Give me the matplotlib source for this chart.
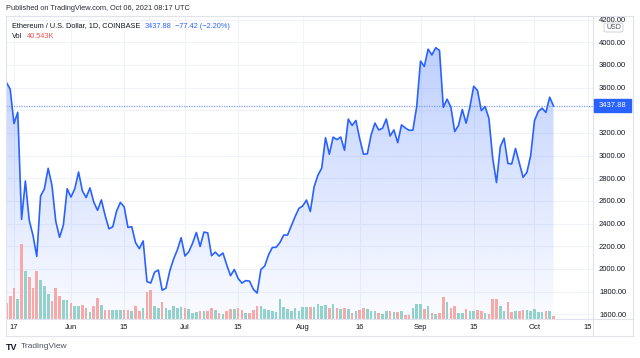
import numpy as np
import pandas as pd
import matplotlib
matplotlib.use("Agg")
import matplotlib.pyplot as plt
import matplotlib.dates as mdates
from matplotlib.patches import Rectangle, FancyBboxPatch
from matplotlib.lines import Line2D

W, H = 640, 358
plt.rcParams['font.family'] = ['Liberation Sans', 'DejaVu Sans']


def fx(x):
    return x / W


def fy(y):
    return 1 - y / H


# daily closes, May 15 .. Oct 6 2021
dates = pd.date_range("2021-05-15", "2021-10-06", freq="D")
close = [
    3646, 3587, 3283, 3382, 2437, 2776, 2432, 2296, 2110, 2643, 2706, 2888, 2736, 2421, 2279, 2387, 2707,
    2634, 2707, 2855, 2689, 2630, 2715, 2590, 2517, 2609, 2471, 2354, 2372, 2510, 2587, 2548,
    2366, 2372, 2231, 2179, 2247, 1888, 1875, 1971, 1990, 1812, 1830, 1981, 2086, 2168, 2275,
    2114, 2151, 2226, 2322, 2198, 2325, 2318, 2117, 2148, 2113, 2140, 2035, 1940, 1995, 1915,
    1875, 1897, 1892, 1820, 1787, 1995, 2026, 2123, 2189, 2191, 2233, 2299, 2299, 2381, 2462, 2534,
    2556, 2608, 2507, 2725, 2827, 2890, 3158, 3012, 3163, 3141, 3164, 3047, 3322, 3266, 3310,
    3148, 3012, 3016, 3182, 3287, 3226, 3241, 3323, 3173, 3227, 3114, 3271, 3244, 3223, 3225, 3433,
    3834, 3787, 3939, 3888, 3952, 3928, 3426, 3498, 3427, 3212, 3266, 3407, 3286, 3429, 3612,
    3575, 3397, 3432, 3330, 2977, 2762, 3078, 3154, 2931, 2926, 3063, 2934, 2808, 2852, 3001,
    3308, 3390, 3418, 3381, 3515, 3437.88,
]
open_may15 = 4075
# volume in thousands
volume_k = [
    216, 311, 419, 270, 1013, 648, 567, 419, 648, 527, 446, 338, 243, 419, 311, 257, 257,
    216, 176, 176, 189, 149, 95, 176, 284, 189, 122, 122, 122, 122, 122, 122,
    122, 108, 176, 108, 149, 365, 392, 176, 149, 230, 149, 122, 176, 149, 162,
    149, 135, 81, 95, 108, 108, 108, 149, 122, 81, 68, 108, 135, 135, 149,
    122, 81, 81, 122, 176, 176, 135, 122, 108, 95, 270, 162, 135, 108, 149, 108,
    162, 162, 162, 162, 203, 176, 189, 149, 203, 149, 135, 149, 135, 81, 108,
    122, 149, 135, 108, 108, 81, 68, 108, 108, 95, 95, 108, 54, 54, 149, 203,
    203, 135, 176, 81, 68, 81, 297, 230, 149, 176, 81, 81, 135, 108, 108,
    122, 108, 81, 68, 270, 270, 176, 108, 230, 95, 108, 108, 122, 122, 108,
    135, 95, 95, 108, 108, 40.543,
]

tick_dates = pd.to_datetime(["2021-05-17", "2021-06-01", "2021-06-15", "2021-07-01", "2021-07-15",
                             "2021-08-01", "2021-08-16", "2021-09-01", "2021-09-15", "2021-10-01",
                             "2021-10-15"])
tick_labels = ["17", "Jun", "15", "Jul", "15", "Aug", "16", "Sep", "15", "Oct", "15"]
price_ticks = np.arange(1600, 4201, 200)
last_price = 3437.88
change_txt = "\u221277.42 (\u22122.20%)"
vol_txt = "40.543K"

BLUE = '#2962ff'
GRID = '#f0f3fa'
BORDER = '#e0e3eb'
TXT = '#131722'
FS = 5.5
HFS = 5.3

xnum = mdates.date2num(dates)
x0 = mdates.date2num(pd.Timestamp("2021-05-17"))
xlim = (x0 - 2.1, x0 + 152.4)
ylim = (1558, 4223)

fig = plt.figure(figsize=(6.4, 3.58), dpi=100)
rect = [fx(6), fy(319), fx(593) - fx(6), fy(17) - fy(319)]
ax = fig.add_axes(rect)
vax = fig.add_axes(rect, sharex=ax)
vax.patch.set_visible(False)
vax.axis('off')

# area gradient under the line
poly = ax.fill_between(xnum, close, ylim[0], color='none', lw=0)
grad = np.zeros((256, 1, 4))
grad[..., 0], grad[..., 1], grad[..., 2] = 41 / 255, 98 / 255, 1.0
grad[..., 3] = np.linspace(0.30, 0.02, 256)[:, None]
img = ax.imshow(grad, extent=[xnum[0], xnum[-1], ylim[0], max(close)], aspect='auto',
                origin='upper', zorder=1)
img.set_clip_path(poly.get_paths()[0], transform=ax.transData)

ax.plot(xnum, close, color=BLUE, lw=1.2, zorder=3, solid_joinstyle='round')
ax.axhline(last_price, color='#7fa0ff', lw=0.9, ls=(0, (1, 1)), zorder=2)

ax.set_xlim(*xlim)
ax.set_ylim(*ylim)
ax.set_xticks(mdates.date2num(tick_dates))
ax.set_xticklabels(tick_labels)
ax.set_yticks(price_ticks)
ax.set_yticklabels([f"{p:.2f}" for p in price_ticks])
ax.yaxis.tick_right()
ax.tick_params(axis='both', length=0, colors=TXT, labelsize=FS)
ax.tick_params(axis='x', pad=3.5)
ax.tick_params(axis='y', pad=4.3)
for lab in ax.get_yticklabels():
    lab.set_horizontalalignment('left')
ax.grid(True, color=GRID, lw=0.8, zorder=0)
ax.set_axisbelow(True)
for s in ax.spines.values():
    s.set_visible(False)

# volume bars
prev = np.concatenate([[open_may15], close[:-1]])
vcols = np.where(np.array(close) >= prev, '#92d2cc', '#f7a9a7')
vax.bar(xnum, volume_k, width=0.7, color=vcols, lw=0)
vax.set_ylim(0, 302 * 13.5)
vax.set_xlim(*xlim)

# frame lines
for (xa, ya, xb, yb) in [(6, 16, 633, 16), (6, 336, 633, 336), (6, 16, 6, 336), (633, 16, 633, 336),
                         (593, 16, 593, 336), (6, 319, 633, 319)]:
    fig.add_artist(Line2D([fx(xa), fx(xb)], [fy(ya), fy(yb)], color=BORDER, lw=0.8))

# last price label (covers most of the 3400.00 tick label, as in the original)
fig.add_artist(Rectangle((fx(594), fy(112)), fx(37), 13 / H, color=BLUE, zorder=5))
fig.text(fx(612.5), fy(105.5), f"{last_price:.2f}", color='white', fontsize=FS,
         ha='center', va='center', zorder=6)
# USD tag
fig.add_artist(FancyBboxPatch((fx(604), fy(32)), fx(19), 9 / H, boxstyle="round,pad=0,rounding_size=0.004",
                              fc='white', ec='#c8cbd3', lw=0.6, zorder=5))
fig.text(fx(613.5), fy(27.5), "USD", color='#50535e', fontsize=5, ha='center', va='center', zorder=6)

# header texts
fig.text(fx(6), fy(8), "Published on TradingView.com, Oct 06, 2021 08:17 UTC", color='#2a2e39',
         fontsize=HFS, ha='left', va='center')
t1 = fig.text(fx(12), fy(26), "Ethereum / U.S. Dollar, 1D, COINBASE", color=TXT, fontsize=HFS,
              ha='left', va='center')
t2 = ax.annotate(f"{last_price:.2f}", xy=(1, 0.5), xycoords=t1, xytext=(3.5, 0),
                 textcoords='offset points', color=BLUE, fontsize=HFS, ha='left', va='center',
                 annotation_clip=False)
ax.annotate(change_txt, xy=(1, 0.5), xycoords=t2, xytext=(2.5, 0), textcoords='offset points',
            color=BLUE, fontsize=HFS, ha='left', va='center', annotation_clip=False)
t3 = fig.text(fx(12), fy(37), "Vol", color=TXT, fontsize=HFS, ha='left', va='center')
ax.annotate(vol_txt, xy=(1, 0.5), xycoords=t3, xytext=(3.5, 0), textcoords='offset points',
            color='#ef5350', fontsize=HFS, ha='left', va='center', annotation_clip=False)

# footer logo
fig.text(fx(6), fy(347), "TV", color=TXT, fontsize=6.5, fontweight='bold', ha='left', va='center')
fig.text(fx(21), fy(347), "TradingView", color='#50535e', fontsize=6, ha='left', va='center')

fig.savefig("out.png", dpi=100, facecolor='white')
